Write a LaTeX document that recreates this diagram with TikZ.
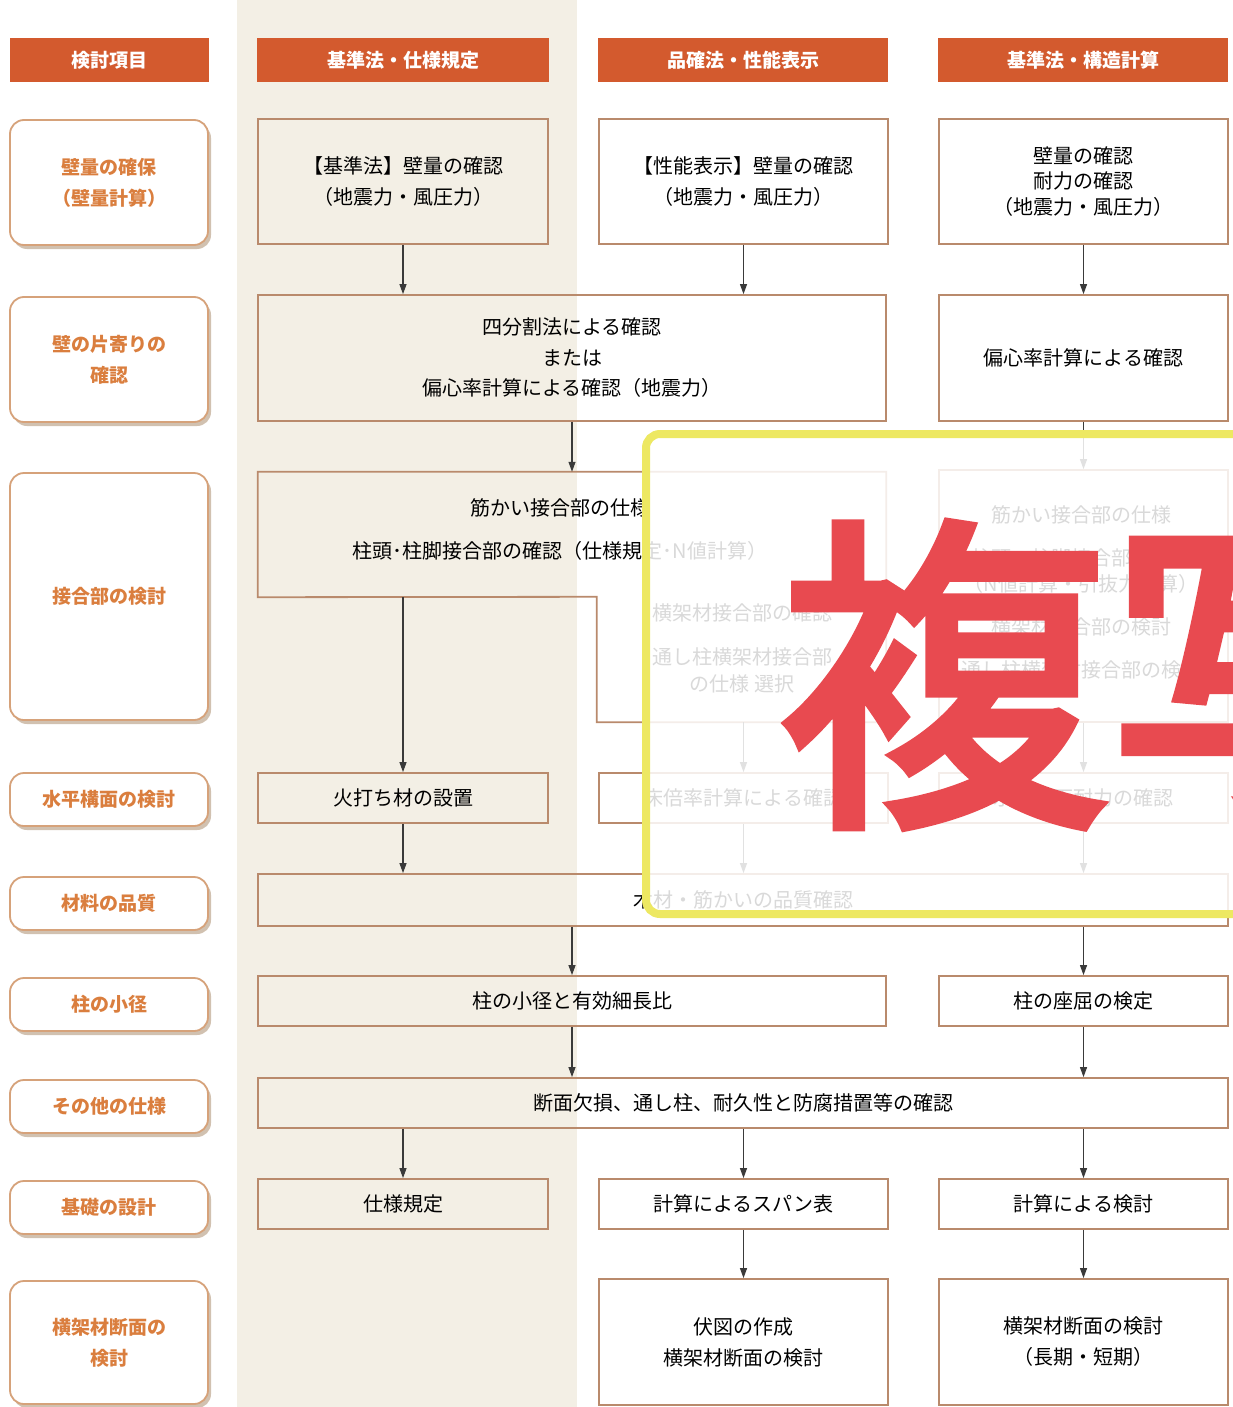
\documentclass[tikz,border=0pt]{standalone}
\usepackage{fontspec}
\newfontfamily\jp{Noto Sans CJK JP}
\newfontfamily\wmfont[FakeBold=3]{Noto Sans CJK JP}
\usetikzlibrary{arrows.meta,shadows}
\definecolor{hdr}{HTML}{D35A2E}
\definecolor{beigec}{HTML}{F3EFE5}
\definecolor{bord}{HTML}{B98A6C}
\definecolor{lbord}{HTML}{D6A27A}
\definecolor{ltext}{HTML}{DA7E3E}
\definecolor{shad}{HTML}{CDBBA8}
\definecolor{arrc}{HTML}{3A3A3A}
\definecolor{wmy}{HTML}{EDE862}
\definecolor{wmr}{HTML}{E84A50}
\newcommand\mybody{\jp\fontsize{20}{31}\selectfont}
\newcommand\myhead{\jp\bfseries\fontsize{19}{23}\selectfont}
\newcommand\mylab{\jp\bfseries\fontsize{19}{31}\selectfont}
\begin{document}
\begin{tikzpicture}[x=1pt,y=-1pt,
  hdrbox/.style={fill=hdr, draw=none, inner sep=0, text=white, font=\myhead, minimum height=44pt},
  lbox/.style={draw=lbord, line width=1.8pt, fill=white, rounded corners=14pt, inner sep=0,
    minimum width=198pt, align=center, text=ltext, font=\mylab,
    drop shadow={shadow xshift=3pt, shadow yshift=-4pt, fill=shad, opacity=0.9}},
  box/.style={draw=bord, line width=1.8pt, inner sep=0, align=center, font=\mybody},
  lbl/.style={inner sep=0, align=center, font=\mybody},
  arr/.style={draw=arrc, line width=1.1pt, -{Triangle[length=10pt,width=7pt]}},
]
\useasboundingbox (0,0) rectangle (1233,1407);
\clip (0,0) rectangle (1233,1407);
\fill[white] (0,0) rectangle (1233,1407);
\fill[beigec] (237,0) rectangle (577,1407);

% headers
\node[hdrbox, minimum width=199pt] (h0) at (109.5,60) {検討項目};
\node[hdrbox, minimum width=292pt] (h1) at (403,60) {基準法・仕様規定};
\node[hdrbox, minimum width=290pt] (h2) at (743,60) {品確法・性能表示};
\node[hdrbox, minimum width=290pt] (h3) at (1083,60) {基準法・構造計算};

% left labels
\node[lbox, minimum height=125pt] (l1) at (109,182.5) {壁量の確保\\（壁量計算）};
\node[lbox, minimum height=125pt] (l2) at (109,359.5) {壁の片寄りの\\確認};
\node[lbox, minimum height=247pt] (l3) at (109,596.5) {接合部の検討};
\node[lbox, minimum height=53pt] (l4) at (109,799.5) {水平構面の検討};
\node[lbox, minimum height=53pt] (l5) at (109,903.5) {材料の品質};
\node[lbox, minimum height=53pt] (l6) at (109,1004.5) {柱の小径};
\node[lbox, minimum height=53pt] (l7) at (109,1106.5) {その他の仕様};
\node[lbox, minimum height=53pt] (l8) at (109,1207.5) {基礎の設計};
\node[lbox, minimum height=123pt] (l9) at (109,1342.5) {横架材断面の\\検討};

% row 1
\node[box, minimum width=290pt, minimum height=125pt] (a1) at (403,181.5) {【基準法】壁量の確認\\（地震力・風圧力）};
\node[box, minimum width=289pt, minimum height=125pt] (b1) at (743.5,181.5) {【性能表示】壁量の確認\\（地震力・風圧力）};
\node[box, minimum width=289pt, minimum height=125pt, font=\jp\fontsize{20}{25.5}\selectfont] (c1) at (1083.5,181.5) {壁量の確認\\耐力の確認\\（地震力・風圧力）};

% row 2
\node[box, minimum width=628pt, minimum height=126pt, font=\jp\fontsize{20}{30.5}\selectfont] (ab2) at (572,358) {四分割法による確認\\または\\偏心率計算による確認（地震力）};
\node[box, minimum width=289pt, minimum height=126pt] (c2) at (1083.5,358) {偏心率計算による確認};

% row 3
\node[inner sep=0, minimum width=628pt, minimum height=125pt] (j1) at (572,534.5) {};
\node[inner sep=0, minimum width=289pt, minimum height=125pt] (j2) at (741.5,659.5) {};
\draw[bord, line width=1.8pt] (j1.north west) -- (j1.north east) -- (j2.south east) -- (j2.south west) -- (j2.north west) -- (j1.south west) -- cycle;
\node[lbl] (t3a) at (560,508) {筋かい接合部の仕様};
\node[lbl] (t3b) at (560,551) {柱頭･柱脚接合部の確認（仕様規定･N値計算）};
\node[lbl] (t3c) at (742,613) {横架材接合部の確認};
\node[lbl, font=\jp\fontsize{20}{27}\selectfont] (t3d) at (742,670.5) {通し柱横架材接合部\\の仕様 選択};
\node[box, minimum width=289pt, minimum height=252pt] (c3) at (1083.5,596) {};
\node[lbl] (u3a) at (1081,515) {筋かい接合部の仕様};
\node[lbl, font=\jp\fontsize{20}{26}\selectfont] (u3b) at (1081,571) {柱頭・柱脚接合部の検討\\（N値計算・引抜力計算）};
\node[lbl] (u3c) at (1081,627) {横架材接合部の検討};
\node[lbl] (u3d) at (1081,670) {通し柱横架材接合部の検討};

% row 4
\node[box, minimum width=290pt, minimum height=50pt] (a4) at (403,798) {火打ち材の設置};
\node[box, minimum width=289pt, minimum height=50pt] (b4) at (743.5,798) {床倍率計算による確認};
\node[box, minimum width=289pt, minimum height=50pt] (c4) at (1083.5,798) {水平構面耐力の確認};

% row 5
\node[box, minimum width=970pt, minimum height=52pt] (m5) at (743,900) {木材・筋かいの品質確認};

% row 6
\node[box, minimum width=628pt, minimum height=50pt] (ab6) at (572,1001) {柱の小径と有効細長比};
\node[box, minimum width=289pt, minimum height=50pt] (c6) at (1083.5,1001) {柱の座屈の検定};

% row 7
\node[box, minimum width=970pt, minimum height=50pt] (m7) at (743,1103) {断面欠損、通し柱、耐久性と防腐措置等の確認};

% row 8
\node[box, minimum width=290pt, minimum height=50pt] (a8) at (403,1204) {仕様規定};
\node[box, minimum width=289pt, minimum height=50pt] (b8) at (743.5,1204) {計算によるスパン表};
\node[box, minimum width=289pt, minimum height=50pt] (c8) at (1083.5,1204) {計算による検討};

% row 9
\node[box, minimum width=289pt, minimum height=126pt] (b9) at (743.5,1342) {伏図の作成\\横架材断面の検討};
\node[box, minimum width=289pt, minimum height=126pt] (c9) at (1083.5,1342) {横架材断面の検討\\（長期・短期）};

% arrows
\draw[arr] (a1.south) -- (a1.south |- ab2.north);
\draw[arr] (b1.south) -- (b1.south |- ab2.north);
\draw[arr] (c1.south) -- (c2.north);
\draw[arr] (ab2.south) -- (ab2.south |- j1.north);
\draw[arr] (c2.south) -- (c3.north);
\draw[arr] (a4.north |- j1.south) -- (a4.north);
\draw[arr] (b4.north |- j2.south) -- (b4.north);
\draw[arr] (c3.south) -- (c4.north);
\draw[arr] (a4.south) -- (a4.south |- m5.north);
\draw[arr] (b4.south) -- (b4.south |- m5.north);
\draw[arr] (c4.south) -- (c4.south |- m5.north);
\draw[arr] (ab6.north |- m5.south) -- (ab6.north);
\draw[arr] (c6.north |- m5.south) -- (c6.north);
\draw[arr] (ab6.south) -- (ab6.south |- m7.north);
\draw[arr] (c6.south) -- (c6.south |- m7.north);
\draw[arr] (a8.north |- m7.south) -- (a8.north);
\draw[arr] (b8.north |- m7.south) -- (b8.north);
\draw[arr] (c8.north |- m7.south) -- (c8.north);
\draw[arr] (b8.south) -- (b9.north);
\draw[arr] (c8.south) -- (c9.north);

% watermark overlay
\fill[white, opacity=0.85] (646,434) rectangle (1233,914);
\draw[wmy, line width=8pt, rounded corners=14pt] (646,434) rectangle (1290,914);
\node[anchor=base west, inner sep=0, text=wmr, font=\wmfont\fontsize{330}{330}\selectfont] (wm) at (778,800) {複写};
\end{tikzpicture}
\end{document}
